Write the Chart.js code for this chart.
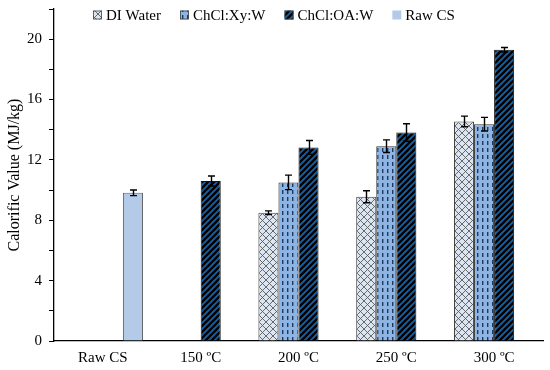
<!DOCTYPE html>
<html>
<head>
<meta charset="utf-8">
<script src="https://cdn.jsdelivr.net/npm/chart.js@4.4.0/dist/chart.umd.min.js"></script>
<style>
html,body{margin:0;padding:0;background:#fff;}
#wrap{width:550px;height:370px;position:relative;}
</style>
</head>
<body>
<div id="wrap"><canvas id="c" width="550" height="370"></canvas></div>
<script>
// ---- data ----
const categories = ["Raw CS", "150 ºC", "200 ºC", "250 ºC", "300 ºC"];
const seriesNames = ["DI Water", "ChCl:Xy:W", "ChCl:OA:W", "Raw CS"];
const diWater = [null, null, 8.5, 9.56, 14.55];
const diWaterErr = [null, null, 0.12, 0.4, 0.35];
const chclXy = [null, null, 10.51, 12.91, 14.37];
const chclXyErr = [null, null, 0.48, 0.42, 0.45];
const chclOA = [null, 10.6, 12.83, 13.82, 19.3];
const chclOAErr = [null, 0.33, 0.46, 0.58, 0.15];
const rawCS = [9.82, null, null, null, null];
const rawCSErr = [0.19, null, null, null, null];
const yTicksMax = 22;
const yTickStep = 2;
const yLabelStep = 4;

const FONT = "'Times New Roman', 'Liberation Serif', serif";

function tile(w, h, draw) {
  const c = document.createElement('canvas');
  c.width = w; c.height = h;
  const g = c.getContext('2d');
  draw(g, w, h);
  return document.getElementById('c').getContext('2d').createPattern(c, 'repeat');
}
const patDI = tile(7, 7, (g, w, h) => {
  g.fillStyle = '#dce6f2'; g.fillRect(0, 0, w, h);
  g.strokeStyle = '#5a5a5a'; g.lineWidth = 0.9;
  g.beginPath();
  g.moveTo(0, 0); g.lineTo(w, h);
  g.moveTo(0, h); g.lineTo(w, 0);
  g.stroke();
});
const patXy = tile(5, 7, (g, w, h) => {
  g.fillStyle = '#8db4e2'; g.fillRect(0, 0, w, h);
  g.fillStyle = '#1f3a60';
  g.fillRect(2, 1, 1.4, 4);
});
const patOA = tile(6, 6, (g, w, h) => {
  g.fillStyle = '#1162ab'; g.fillRect(0, 0, w, h);
  g.strokeStyle = '#000'; g.lineWidth = 2.3;
  g.beginPath();
  g.moveTo(-1, 7); g.lineTo(7, -1);
  g.moveTo(-4, 4); g.lineTo(4, -4);
  g.moveTo(2, 10); g.lineTo(10, 2);
  g.stroke();
});

const errs = [diWaterErr, chclXyErr, chclOAErr, rawCSErr];

const errorBars = {
  id: 'errorBars',
  afterDatasetsDraw(chart) {
    const ctx = chart.ctx;
    const y = chart.scales.y;
    ctx.save();
    ctx.strokeStyle = '#000';
    ctx.lineWidth = 1.4;
    chart.data.datasets.forEach((ds, di) => {
      const meta = chart.getDatasetMeta(di);
      ds.data.forEach((v, i) => {
        const e = errs[di][i];
        if (v == null || e == null) return;
        const x = Math.round(meta.data[i].x) + 0.5;
        const yt = y.getPixelForValue(v + e);
        const yb = y.getPixelForValue(v - e);
        ctx.beginPath();
        ctx.moveTo(x, yt); ctx.lineTo(x, yb);
        ctx.moveTo(x - 3.5, yt); ctx.lineTo(x + 3.5, yt);
        ctx.moveTo(x - 3.5, yb); ctx.lineTo(x + 3.5, yb);
        ctx.stroke();
      });
    });
    ctx.restore();
  }
};

const customLegend = {
  id: 'customLegend',
  afterDraw(chart) {
    const ctx = chart.ctx;
    ctx.save();
    ctx.font = '15px ' + FONT;
    ctx.textBaseline = 'middle';
    ctx.fillStyle = '#000';
    let x = 93;
    const yc = 15;
    chart.data.datasets.forEach((ds) => {
      ctx.fillStyle = ds.backgroundColor;
      ctx.fillRect(x, yc - 4.5, 9, 9);
      ctx.strokeStyle = '#444';
      ctx.lineWidth = 0.8;
      if (ds.label !== 'Raw CS') ctx.strokeRect(x + 0.5, yc - 4, 8, 8);
      ctx.fillStyle = '#000';
      ctx.fillText(ds.label, x + 13, yc + 1);
      x += 13 + ctx.measureText(ds.label).width + 19;
    });
    ctx.restore();
  }
};

new Chart(document.getElementById('c'), {
  type: 'bar',
  data: {
    labels: categories,
    datasets: [
      { label: seriesNames[0], data: diWater, backgroundColor: patDI, borderColor: '#444', borderWidth: 1 },
      { label: seriesNames[1], data: chclXy, backgroundColor: patXy, borderColor: '#333', borderWidth: 1 },
      { label: seriesNames[2], data: chclOA, backgroundColor: patOA, borderColor: '#111', borderWidth: 1 },
      { label: seriesNames[3], data: rawCS, backgroundColor: '#b3cae9', borderColor: '#666', borderWidth: 1 }
    ]
  },
  options: {
    responsive: false,
    animation: false,
    devicePixelRatio: 1,
    layout: { padding: { top: 9, right: 7, left: 0, bottom: 0 } },
    datasets: { bar: { categoryPercentage: 0.82, barPercentage: 1.0 } },
    plugins: { legend: { display: false }, tooltip: { enabled: false } },
    scales: {
      x: {
        grid: { display: false, drawTicks: false },
        border: { display: true, color: '#000', width: 1.3 },
        ticks: { color: '#000', font: { family: FONT, size: 15 }, padding: 8, maxRotation: 0 },
        afterFit(s) { s.height = 29; s.paddingLeft = 0; s.paddingRight = 0; }
      },
      y: {
        min: 0, max: yTicksMax,
        grid: { display: true, drawOnChartArea: false, drawTicks: true, tickLength: 5, color: '#000', lineWidth: 1 },
        border: { display: true, color: '#000', width: 1.3 },
        ticks: {
          stepSize: yTickStep, color: '#000', font: { family: FONT, size: 15 }, padding: 7,
          callback: (v) => (v % yLabelStep === 0 ? String(v) : '')
        },
        title: { display: true, text: 'Calorific Value (MJ/kg)', color: '#000', font: { family: FONT, size: 16 }, padding: { top: 5, bottom: 0 } },
        afterFit(s) { s.width = 54; s.paddingTop = 0; s.paddingBottom = 0; }
      }
    }
  },
  plugins: [errorBars, customLegend]
});
</script>
</body>
</html>
